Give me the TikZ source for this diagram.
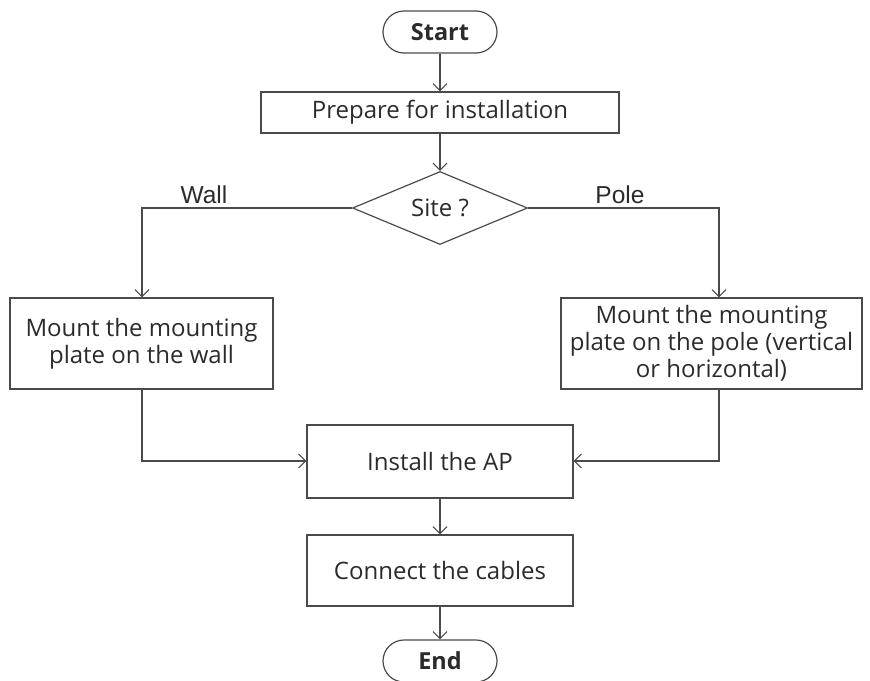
\documentclass[tikz,border=0pt]{standalone}
\usepackage{fontspec}
\setmainfont{Open Sans}
\newfontfamily\labelfont{Liberation Sans}
\usetikzlibrary{shapes.geometric,arrows.meta}
\definecolor{lineclr}{HTML}{4A4A4A}
\definecolor{txtclr}{HTML}{2B2B2B}
\tikzset{
  every node/.style={text=txtclr, font=\fontsize{24}{27}\selectfont},
  stepbox/.style={draw=lineclr, line width=1.2pt, rectangle, inner sep=0pt, align=center},
  terminal/.style={draw=lineclr, line width=1.2pt, rounded corners=21pt, minimum width=114pt, minimum height=42pt, inner sep=0pt, font=\fontsize{23.5}{24}\selectfont\bfseries},
  decision/.style={draw=lineclr, line width=1.2pt, diamond, aspect=2.4, inner sep=0pt, minimum width=175pt, minimum height=73pt},
  flow/.style={draw=lineclr, line width=1.2pt, -{Straight Barb[length=7pt,width=14pt,line width=1.1pt]}},
  branch/.style={font=\labelfont\fontsize{24.5}{26}\selectfont}
}
\begin{document}
\begin{tikzpicture}[x=1pt,y=-1pt]
\useasboundingbox (0,0) rectangle (870,680);
\node[terminal] (start) at (440,32) {Start};
\node[stepbox, minimum width=358pt, minimum height=41pt] (prep) at (440,112.5) {Prepare for installation};
\node[decision] (site) at (440,208) {Site ?};
\node[stepbox, minimum width=263pt, minimum height=91pt] (wall) at (141.5,343.5) {Mount the mounting\\plate on the wall};
\node[stepbox, minimum width=301pt, minimum height=91pt] (pole) at (711.5,343.5) {Mount the mounting\\plate on the pole (vertical\\or horizontal)};
\node[stepbox, minimum width=266pt, minimum height=73pt] (ap) at (440,461.5) {Install the AP};
\node[stepbox, minimum width=266pt, minimum height=71pt] (cables) at (440,570.5) {Connect the cables};
\node[terminal] (end) at (440,661) {End};

\coordinate (wallturn) at (142,208);
\coordinate (poleturn) at (719,208);
\coordinate (walldown) at (142,461);
\coordinate (poledown) at (719,461);

\draw[flow] (start) -- (prep);
\draw[flow] (prep) -- (site);
\draw[flow] (site.west) -- (wallturn) -- (wall.north -| wallturn);
\draw[flow] (site.east) -- (poleturn) -- (pole.north -| poleturn);
\draw[flow] (wall.south -| walldown) -- (walldown) -- (ap.west |- walldown);
\draw[flow] (pole.south -| poledown) -- (poledown) -- (ap.east |- poledown);
\draw[flow] (ap) -- (cables);
\draw[flow] (cables) -- (end);

\node[branch, anchor=base] (walllbl) at (204,203) {Wall};
\node[branch, anchor=base] (polelbl) at (620,203) {Pole};
\end{tikzpicture}
\end{document}
